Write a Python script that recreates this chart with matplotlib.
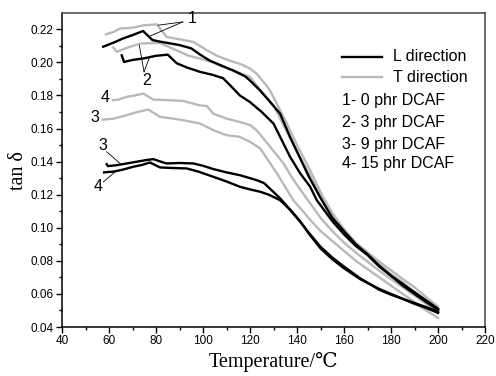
import matplotlib
matplotlib.use("Agg")
import matplotlib.pyplot as plt
from matplotlib.ticker import MultipleLocator, FormatStrFormatter

# ---- data ----
L1_T = [57.5, 62, 66, 70, 74.5, 78.5, 82, 86, 90, 95, 99, 103, 108, 113, 118, 120, 124.3, 128, 132.8, 137, 141, 145, 150, 155, 160, 165, 170, 175, 180, 185, 190, 195, 200]
L1_v = [0.2095, 0.212, 0.2145, 0.2165, 0.219, 0.2135, 0.2125, 0.2115, 0.2105, 0.2085, 0.2045, 0.201, 0.198, 0.195, 0.1915, 0.189, 0.183, 0.177, 0.169, 0.155, 0.143, 0.131, 0.118, 0.106, 0.098, 0.090, 0.084, 0.077, 0.071, 0.066, 0.061, 0.056, 0.051]

L2_T = [65.4, 66.4, 70, 75, 80, 85, 88.8, 93, 98.7, 104, 108.5, 111.5, 115.7, 120, 125, 130, 137, 141.3, 145.5, 148.4, 155, 160, 165, 170, 175, 180, 185, 190, 195, 200]
L2_v = [0.2043, 0.2003, 0.2015, 0.2025, 0.204, 0.2047, 0.1995, 0.197, 0.1943, 0.1925, 0.1905, 0.1862, 0.180, 0.176, 0.170, 0.163, 0.143, 0.133, 0.125, 0.1167, 0.104, 0.096, 0.089, 0.0835, 0.0765, 0.071, 0.065, 0.060, 0.055, 0.0505]

L3_T = [59, 59.5, 63, 67.5, 72, 76, 78.9, 82, 84.5, 90, 95.9, 100, 104.4, 110, 115.7, 120, 122.8, 126, 132.8, 137, 141.3, 145, 150, 155, 160, 166.8, 175, 180, 185, 190, 195, 200]
L3_v = [0.1385, 0.1373, 0.1378, 0.1389, 0.140, 0.141, 0.1415, 0.140, 0.1389, 0.1392, 0.1389, 0.1375, 0.1355, 0.1335, 0.1318, 0.130, 0.1288, 0.127, 0.1178, 0.111, 0.104, 0.0965, 0.0875, 0.081, 0.0755, 0.069, 0.063, 0.060, 0.057, 0.0545, 0.052, 0.0495]

L4_T = [57.9, 62, 66, 70.3, 74, 77.4, 81.7, 86, 93, 98, 104.4, 110, 115.7, 120, 124.3, 128, 132.8, 137, 141.3, 145, 150, 155, 160, 166.8, 175, 180, 185, 190, 195, 200]
L4_v = [0.1335, 0.134, 0.1352, 0.1369, 0.138, 0.1395, 0.1365, 0.1362, 0.1359, 0.134, 0.1308, 0.128, 0.1248, 0.1232, 0.1218, 0.120, 0.1167, 0.111, 0.1037, 0.097, 0.0885, 0.082, 0.0765, 0.0695, 0.0625, 0.0595, 0.057, 0.054, 0.0515, 0.0485]

T1_T = [58.7, 62, 64.7, 70, 75, 80.3, 84.5, 90, 95.9, 101.6, 106, 111.5, 116, 120, 122.8, 127, 128.5, 135, 140, 145.5, 151, 155, 160, 165, 170, 178, 185, 190, 195, 200]
T1_v = [0.217, 0.2185, 0.2205, 0.221, 0.2225, 0.223, 0.2154, 0.214, 0.2124, 0.2074, 0.204, 0.201, 0.199, 0.1963, 0.1932, 0.186, 0.183, 0.165, 0.150, 0.135, 0.1187, 0.109, 0.099, 0.091, 0.085, 0.0764, 0.069, 0.064, 0.058, 0.0523]

T2_T = [61.8, 63.3, 68, 73.2, 81.7, 86, 90.2, 94, 98.7, 104.3, 108, 112.8, 120, 125.7, 130, 135, 140, 145, 150, 155, 160, 165, 170, 175, 180, 185, 190, 195, 200]
T2_v = [0.209, 0.2064, 0.209, 0.2114, 0.2118, 0.209, 0.2064, 0.204, 0.2023, 0.200, 0.1975, 0.1953, 0.1912, 0.181, 0.174, 0.160, 0.146, 0.133, 0.120, 0.107, 0.098, 0.091, 0.085, 0.078, 0.072, 0.067, 0.061, 0.056, 0.051]

T3_T = [57.3, 62, 67.5, 72, 76.7, 81.7, 90.2, 98.7, 104.4, 110, 115.7, 120, 124.3, 131.4, 138.4, 141.3, 145.5, 150, 155, 160, 165, 170, 175, 180, 185, 190, 195, 200]
T3_v = [0.1654, 0.166, 0.1681, 0.170, 0.1715, 0.1671, 0.1654, 0.1631, 0.159, 0.156, 0.155, 0.152, 0.148, 0.133, 0.1167, 0.112, 0.105, 0.098, 0.092, 0.086, 0.080, 0.075, 0.070, 0.065, 0.060, 0.055, 0.050, 0.0455]

T4_T = [61.8, 64, 67.5, 71, 74.6, 78.9, 85, 91.6, 98.7, 101.6, 104.4, 110, 115.7, 120, 122.8, 128, 134.2, 138, 142.7, 150, 155, 160, 165, 170, 175, 180, 185, 190, 195, 200]
T4_v = [0.1772, 0.1775, 0.1792, 0.180, 0.1812, 0.1775, 0.1772, 0.1767, 0.174, 0.1736, 0.169, 0.166, 0.164, 0.1621, 0.159, 0.150, 0.139, 0.130, 0.1205, 0.106, 0.098, 0.091, 0.085, 0.0795, 0.074, 0.069, 0.064, 0.059, 0.054, 0.049]

legend_labels = ["L direction", "T direction"]
notes = ["1- 0 phr DCAF", "2- 3 phr DCAF", "3- 9 phr DCAF", "4- 15 phr DCAF"]

BLACK = "#000000"
GRAY = "#b9b9b9"
SANS = ["Liberation Sans", "DejaVu Sans"]
SERIF = ["Liberation Serif", "DejaVu Serif", "Noto Sans CJK SC"]

fig = plt.figure(figsize=(4.96, 3.76), dpi=100)
ax = fig.add_axes([0.125, 0.1303, 0.853, 0.8343])

lw = 1.7
for T, v in [(T1_T, T1_v), (T2_T, T2_v), (T3_T, T3_v), (T4_T, T4_v)]:
    ax.plot(T, v, color=GRAY, lw=lw, solid_joinstyle="round")
for T, v in [(L1_T, L1_v), (L2_T, L2_v), (L3_T, L3_v), (L4_T, L4_v)]:
    ax.plot(T, v, color=BLACK, lw=lw, solid_joinstyle="round")

ax.set_xlim(40, 220)
ax.set_ylim(0.04, 0.2297)
ax.xaxis.set_major_locator(MultipleLocator(20))
ax.xaxis.set_minor_locator(MultipleLocator(10))
ax.yaxis.set_major_locator(MultipleLocator(0.02))
ax.yaxis.set_minor_locator(MultipleLocator(0.01))
ax.yaxis.set_major_formatter(FormatStrFormatter("%.2f"))
ax.tick_params(which="major", direction="out", length=4, width=1, labelsize=8.5, pad=2)
ax.tick_params(which="minor", direction="out", length=2.5, width=1)
for lab in ax.get_xticklabels() + ax.get_yticklabels():
    lab.set_family(SANS)
for s in ["left", "bottom"]:
    ax.spines[s].set_linewidth(1.1)
for s in ["top", "right"]:
    ax.spines[s].set_linewidth(1.1)
    ax.spines[s].set_color("#444444")

ax.set_xlabel("Temperature/\u2103", family=SERIF, fontsize=14.5, labelpad=3)
ax.set_ylabel("tan \u03b4", family=SERIF, fontsize=14.5, labelpad=2)

# annotations
ann = dict(family=SANS, fontsize=11.5, ha="center", va="center")
ax.text(95.5, 0.2265, "1", **ann)
ax.plot([91.4, 80.9], [0.2245, 0.2225], color="k", lw=0.6)
ax.plot([91.4, 77.4], [0.2245, 0.2159], color="k", lw=0.6)
ax.text(76, 0.189, "2", **ann)
ax.plot([74.9, 72.9], [0.1943, 0.2104], color="k", lw=0.6)
ax.plot([74.9, 77.1], [0.1943, 0.2027], color="k", lw=0.6)
ax.text(58.3, 0.179, "4", **ann)
ax.text(54.0, 0.1667, "3", **ann)
ax.text(57.6, 0.1495, "3", **ann)
ax.plot([59, 64.7], [0.146, 0.1389], color="k", lw=0.6)
ax.text(55.5, 0.1248, "4", **ann)
ax.plot([57.6, 62.6], [0.1278, 0.1338], color="k", lw=0.6)

# legend-like block
ax.plot([159, 176], [0.2033, 0.2033], color=BLACK, lw=lw)
ax.plot([159, 176], [0.1909, 0.1909], color=GRAY, lw=lw)
leg = dict(family=SANS, fontsize=11.5, va="center", ha="left")
ax.text(181, 0.2033, legend_labels[0], **leg)
ax.text(181, 0.1909, legend_labels[1], **leg)
ys = [0.1772, 0.1634, 0.1506, 0.1389]
for y, t in zip(ys, notes):
    ax.text(159, y, t, **leg)

fig.savefig("out.png", dpi=100)
